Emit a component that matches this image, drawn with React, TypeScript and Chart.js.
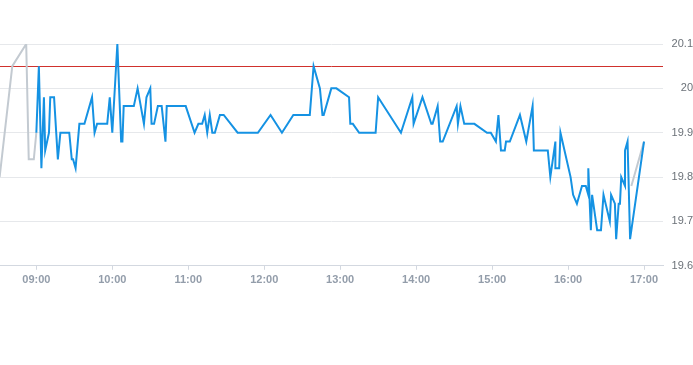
import React, { useEffect, useRef } from "react";
import { Chart, registerables } from "chart.js";

Chart.register(...registerables);

// Intraday price (blue) — times (HH:MM) and values
const PRICE_TIMES = [
  "09:00","09:02","09:04","09:06","09:07","09:10","09:11","09:14","09:17","09:19",
  "09:26","09:28","09:29","09:31","09:34","09:38","09:44","09:46","09:48","09:56",
  "09:58","10:00","10:04","10:07","10:08","10:09","10:17","10:20","10:25","10:27",
  "10:30","10:31","10:33","10:36","10:39","10:42","10:43","10:58","11:05","11:08",
  "11:11","11:13","11:15","11:17","11:19","11:21","11:25","11:28","11:39","11:55",
  "12:05","12:14","12:23","12:36","12:39","12:44","12:46","12:47","12:53","12:57",
  "13:07","13:08","13:10","13:15","13:28","13:30","13:48","13:57","13:58","14:05",
  "14:12","14:13","14:17","14:19","14:21","14:32","14:33","14:35","14:38","14:46",
  "14:56","14:59","15:03","15:05","15:07","15:10","15:11","15:14","15:22","15:27",
  "15:32","15:33","15:44","15:46","15:50","15:50","15:53","15:54","16:02","16:04",
  "16:07","16:11","16:14","16:16","16:16","16:18","16:19","16:23","16:26","16:28",
  "16:33","16:34","16:37","16:38","16:40","16:41","16:42","16:45","16:45","16:47",
  "16:49","17:00"
];
const PRICE_VALUES = [
  19.90,20.05,19.82,19.98,19.86,19.90,19.98,19.98,19.84,19.90,
  19.90,19.84,19.84,19.82,19.92,19.92,19.98,19.90,19.92,19.92,
  19.98,19.90,20.10,19.88,19.88,19.96,19.96,20.00,19.92,19.98,
  20.00,19.92,19.92,19.96,19.96,19.88,19.96,19.96,19.90,19.92,
  19.92,19.94,19.90,19.94,19.90,19.90,19.94,19.94,19.90,19.90,
  19.94,19.90,19.94,19.94,20.05,20.00,19.94,19.94,20.00,20.00,
  19.98,19.92,19.92,19.90,19.90,19.98,19.90,19.98,19.92,19.98,
  19.92,19.92,19.96,19.88,19.88,19.96,19.92,19.96,19.92,19.92,
  19.90,19.90,19.88,19.94,19.86,19.86,19.88,19.88,19.94,19.88,
  19.96,19.86,19.86,19.80,19.88,19.82,19.82,19.90,19.80,19.76,
  19.74,19.78,19.78,19.76,19.82,19.68,19.76,19.68,19.68,19.76,
  19.70,19.76,19.74,19.66,19.74,19.74,19.80,19.78,19.86,19.88,
  19.66,19.88
];

// Secondary series (grey): pre-open segment and closing segment
const GREY_TIMES = ["08:31","08:41","08:52","08:54","08:58","09:00", null, "16:50","17:00"];
const GREY_VALUES = [19.80, 20.05, 20.10, 19.84, 19.84, 19.90, null, 19.78, 19.88];

// Reference price (red horizontal line)
const REF_PRICE = 20.05;

// Axes
const X_MIN = "08:31";
const X_MAX = "17:15";
const X_TICKS = ["09:00","10:00","11:00","12:00","13:00","14:00","15:00","16:00","17:00"];
const Y_TICKS = [19.6, 19.7, 19.8, 19.9, 20.0, 20.1];

const toMin = (s: string) => {
  const [h, m] = s.split(":").map(Number);
  return h * 60 + m;
};
const fmt = (v: number) => {
  const h = Math.floor(v / 60);
  const m = Math.round(v % 60);
  return `${String(h).padStart(2, "0")}:${String(m).padStart(2, "0")}`;
};

const refLinePlugin = {
  id: "refLine",
  beforeDatasetsDraw(chart: any) {
    const { ctx, chartArea, scales } = chart;
    const y = Math.round(scales.y.getPixelForValue(REF_PRICE)) + 0.5;
    ctx.save();
    ctx.strokeStyle = "#d0312d";
    ctx.lineWidth = 1;
    ctx.beginPath();
    ctx.moveTo(chartArea.left, y);
    ctx.lineTo(chartArea.right, y);
    ctx.stroke();
    ctx.restore();
  },
};

export default function App() {
  const ref = useRef<HTMLCanvasElement | null>(null);

  useEffect(() => {
    if (!ref.current) return;
    const xMin = toMin(X_MIN) + 0.3;
    const xMax = toMin(X_MAX);
    const chart = new Chart(ref.current, {
      type: "line",
      data: {
        datasets: [
          {
            label: "Price",
            data: PRICE_TIMES.map((t, i) => ({ x: toMin(t), y: PRICE_VALUES[i] })),
            borderColor: "#1592e3",
            borderWidth: 2,
            pointRadius: 0,
            tension: 0,
            order: 1,
          },
          {
            label: "Grey",
            data: GREY_TIMES.map((t, i) =>
              t === null ? { x: 700, y: null } : { x: toMin(t), y: GREY_VALUES[i] }
            ) as any,
            borderColor: "#c3cad1",
            borderWidth: 2,
            pointRadius: 0,
            tension: 0,
            spanGaps: false,
            order: 2,
          },
        ],
      },
      plugins: [refLinePlugin],
      options: {
        animation: false,
        responsive: false,
        maintainAspectRatio: false,
        layout: { padding: { top: 44, bottom: 9, left: 0, right: 0 } },
        plugins: { legend: { display: false }, tooltip: { enabled: false } },
        scales: {
          x: {
            type: "linear",
            min: xMin,
            max: xMax,
            afterBuildTicks: (s: any) => {
              s.ticks = X_TICKS.map((t) => ({ value: toMin(t) }));
            },
            grid: {
              display: true,
              drawOnChartArea: false,
              tickLength: 4,
              color: "#d3d8e0",
            },
            border: { color: "#d3d8e0" },
            ticks: {
              callback: (v: any) => fmt(Number(v)),
              color: "#939daa",
              font: { family: "'Liberation Sans', Arial, sans-serif", size: 11, weight: "bold" },
              padding: 4,
              maxRotation: 0,
              autoSkip: false,
            },
          },
          y: {
            position: "right",
            min: 19.6,
            max: 20.1,
            afterBuildTicks: (s: any) => {
              s.ticks = Y_TICKS.map((v) => ({ value: v }));
            },
            afterFit: (s: any) => {
              s.width = 30;
            },
            grid: { color: "#e6e8eb", drawTicks: false },
            border: { display: false },
            ticks: {
              callback: (v: any) => String(Number(Number(v).toFixed(1))),
              color: "#6b7178",
              crossAlign: "far",
              padding: 11,
              font: { family: "'Liberation Sans', Arial, sans-serif", size: 11 },
            },
          },
        },
      },
    });
    return () => chart.destroy();
  }, []);

  return (
    <div style={{ position: "absolute", left: 0, top: 0, width: 693, height: 300 }}>
      <canvas ref={ref} width={693} height={300} style={{ display: "block" }} />
    </div>
  );
}
